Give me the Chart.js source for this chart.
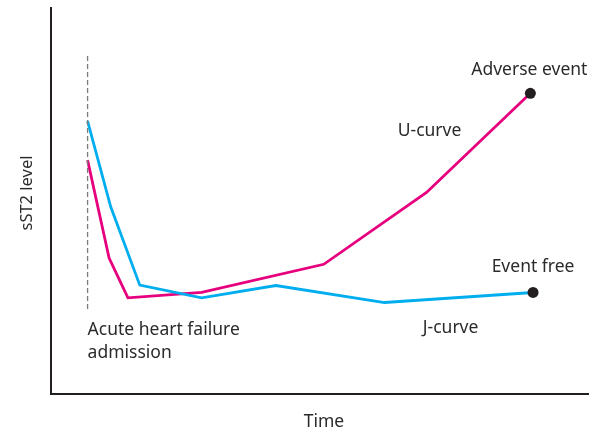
<!DOCTYPE html>
<html>
<head>
<meta charset="utf-8">
<script src="https://cdn.jsdelivr.net/npm/chart.js@4/dist/chart.umd.min.js"></script>
<style>
  html, body { margin: 0; padding: 0; background: #fff; }
  #wrap { width: 589px; height: 429px; position: relative; }
</style>
</head>
<body>
<div id="wrap"><canvas id="c" width="589" height="429"></canvas></div>
<script>
// ---- data (arbitrary units) ----
const jCurveTime  = [6.8, 11.1, 16.5, 28.0, 41.8, 62.0, 89.6];
const jCurveLevel = [70.7, 48.5, 28.2, 24.9, 28.1, 23.7, 26.3];
const uCurveTime  = [6.8, 10.8, 14.3, 28.0, 50.7, 69.8, 89.1];
const uCurveLevel = [60.6, 35.2, 24.9, 26.3, 33.6, 52.2, 77.9];
const admissionTime = [6.8, 6.8];
const admissionLevel = [22.0, 87.8];
const curveNames = ['J-curve', 'U-curve'];
const outcomeNames = ['Event free', 'Adverse event'];
const admissionText = ['Acute heart failure', 'admission'];
const xTitle = 'Time';
const yTitle = 'sST2 level';

const toPts = (xs, ys) => xs.map((x, i) => ({ x: x, y: ys[i] }));
const lastOnly = (n, r) => Array.from({ length: n }, (_, i) => (i === n - 1 ? r : 0));

const FONT = '"Noto Sans", "Open Sans", sans-serif';
const TXT = '#2b2b2b';

const textPlugin = {
  id: 'texts',
  afterDraw(chart) {
    const ctx = chart.ctx;
    const xs = chart.scales.x, ys = chart.scales.y;
    ctx.save();
    ctx.fillStyle = TXT;
    ctx.font = '17.5px ' + FONT;
    ctx.textBaseline = 'alphabetic';
    const jEnd = jCurveTime.length - 1, uEnd = uCurveTime.length - 1;
    ctx.textAlign = 'center';
    ctx.fillText(outcomeNames[1], xs.getPixelForValue(uCurveTime[uEnd]) - 1, ys.getPixelForValue(uCurveLevel[uEnd]) - 18);
    ctx.fillText(outcomeNames[0], xs.getPixelForValue(jCurveTime[jEnd]) + 0, ys.getPixelForValue(jCurveLevel[jEnd]) - 20);
    ctx.fillText(curveNames[1], xs.getPixelForValue(uCurveTime[5]) + 3, ys.getPixelForValue(uCurveLevel[5]) - 57);
    ctx.fillText(curveNames[0], xs.getPixelForValue(jCurveTime[5]) + 66, ys.getPixelForValue(jCurveLevel[5]) + 30);
    ctx.textAlign = 'left';
    const ax = xs.getPixelForValue(admissionTime[0]);
    const ay = ys.getPixelForValue(admissionLevel[0]);
    ctx.fillText(admissionText[0], ax, ay + 26);
    ctx.fillText(admissionText[1], ax, ay + 49);
    ctx.textAlign = 'center';
    ctx.fillText(xTitle, 324, xs.bottom + 33);
    ctx.font = '16.5px ' + FONT;
    ctx.translate(32, (ys.top + ys.bottom) / 2 - 8);
    ctx.rotate(-Math.PI / 2);
    ctx.fillText(yTitle, 0, 0);
    ctx.restore();
  }
};

new Chart(document.getElementById('c'), {
  type: 'line',
  data: {
    datasets: [
      {
        label: 'admission',
        data: toPts(admissionTime, admissionLevel),
        borderColor: '#7a7a7a',
        borderWidth: 1.3,
        borderDash: [5, 3],
        pointRadius: 0,
        fill: false
      },
      {
        label: curveNames[0],
        data: toPts(jCurveTime, jCurveLevel),
        borderColor: '#00aeef',
        borderWidth: 2.8,
        borderJoinStyle: 'miter',
        tension: 0,
        pointRadius: lastOnly(jCurveTime.length, 5.5),
        pointBackgroundColor: '#231f20',
        pointBorderColor: '#231f20',
        pointBorderWidth: 0,
        fill: false
      },
      {
        label: curveNames[1],
        data: toPts(uCurveTime, uCurveLevel),
        borderColor: '#e6007e',
        borderWidth: 2.8,
        borderJoinStyle: 'miter',
        tension: 0,
        pointRadius: lastOnly(uCurveTime.length, 5.5),
        pointBackgroundColor: '#231f20',
        pointBorderColor: '#231f20',
        pointBorderWidth: 0,
        fill: false
      }
    ]
  },
  options: {
    responsive: false,
    animation: false,
    events: [],
    layout: { autoPadding: false, padding: { left: 51, top: 8, right: 0, bottom: 35 } },
    plugins: { legend: { display: false }, tooltip: { enabled: false } },
    scales: {
      x: {
        type: 'linear', min: 0, max: 100,
        ticks: { display: false },
        grid: { display: false, drawTicks: false },
        border: { display: true, color: '#231f20', width: 2 }
      },
      y: {
        type: 'linear', min: 0, max: 100,
        ticks: { display: false },
        grid: { display: false, drawTicks: false },
        border: { display: true, color: '#231f20', width: 2 }
      }
    }
  },
  plugins: [textPlugin]
});
</script>
</body>
</html>
